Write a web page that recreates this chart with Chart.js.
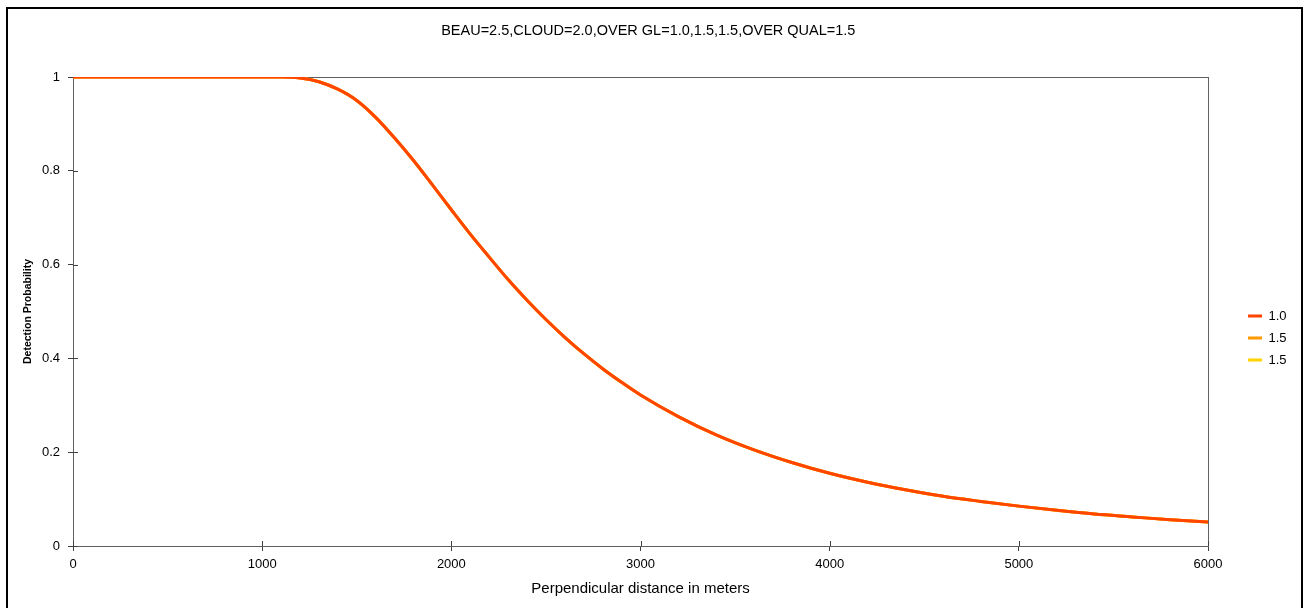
<!DOCTYPE html>
<html>
<head>
<meta charset="utf-8">
<script src="https://cdn.jsdelivr.net/npm/chart.js@4"></script>
<style>
  body { margin: 0; background: #fff; }
  #frame { position: absolute; left: 6px; top: 7px; width: 1293px; height: 620px; border: 2px solid #000; }
  #wrap { position: absolute; left: 0; top: 0; width: 1309px; height: 608px; }
</style>
</head>
<body>
<div id="frame"></div>
<div id="wrap"><canvas id="myChart"></canvas></div>
<script>
// perpendicular distance (m)
let distances = [0, 200, 400, 600, 800, 1000, 1100, 1200, 1300, 1400, 1500, 1600, 1700, 1800, 1900,
  2000, 2100, 2200, 2300, 2400, 2500, 2600, 2700, 2800, 2900, 3000, 3200, 3400, 3600, 3800,
  4000, 4200, 4400, 4600, 4800, 5000, 5200, 5400, 5600, 5800, 6000];
// detection probability (the three overlap)
let gl10 = [1, 1, 1, 1, 1, 1, 1, 0.998, 0.99, 0.974, 0.95, 0.914, 0.87, 0.822, 0.77,
  0.717, 0.665, 0.616, 0.568, 0.524, 0.483, 0.445, 0.41, 0.378, 0.349, 0.322, 0.276, 0.237, 0.205, 0.178,
  0.155, 0.136, 0.12, 0.106, 0.095, 0.085, 0.076, 0.068, 0.062, 0.056, 0.051];
let gl15a = gl10.slice();
let gl15b = gl10.slice();

let seriesNames = ['1.0', '1.5', '1.5'];
let seriesColors = ['#FF4500', '#FF9900', '#FFD200'];
let xTicks = [0, 1000, 2000, 3000, 4000, 5000, 6000];
let yTicks = [0, 0.2, 0.4, 0.6, 0.8, 1];

function pts(vals) {
    return distances.map((d, i) => ({x: d, y: vals[i]}));
}

let font = 'Liberation Sans, Arial, sans-serif';

// plot area frame + tick marks crossing into the plot
let frame = {
    id: 'frame',
    beforeDatasetsDraw(chart) {
        let a = chart.chartArea, c = chart.ctx;
        c.save();
        c.strokeStyle = '#606060';
        c.lineWidth = 1;
        c.strokeRect(a.left + 0.5, a.top + 0.5, a.right - a.left, a.bottom - a.top);
        c.strokeStyle = '#404040';
        c.beginPath();
        yTicks.forEach(v => {
            let y = Math.round(chart.scales.y.getPixelForValue(v)) + 0.5;
            c.moveTo(a.left, y); c.lineTo(a.left + 5, y);
        });
        xTicks.forEach(v => {
            let x = Math.round(chart.scales.x.getPixelForValue(v)) + 0.5;
            c.moveTo(x, a.bottom); c.lineTo(x, a.bottom - 5);
        });
        c.stroke();
        c.restore();
    }
};

let myChart = new Chart(document.getElementById('myChart').getContext('2d'), {
    type: 'line',
    data: {
        datasets: [gl10, gl15a, gl15b].map((v, i) => ({
            label: seriesNames[i],
            data: pts(v),
            borderColor: seriesColors[i],
            backgroundColor: seriesColors[i],
            borderWidth: 3,
            pointRadius: 0,
            cubicInterpolationMode: 'monotone'
        }))
    },
    options: {
        responsive: true,
        maintainAspectRatio: false,
        animation: false,
        layout: {padding: {left: 0, right: 12.4, top: 0, bottom: 0}},
        plugins: {
            title: {
                display: true,
                text: 'BEAU=2.5,CLOUD=2.0,OVER GL=1.0,1.5,1.5,OVER QUAL=1.5',
                color: '#000',
                font: {family: font, size: 14.5, weight: 'normal'},
                padding: {top: 22, bottom: 37.6}
            },
            legend: {
                position: 'right',
                title: {display: true, text: '', font: {size: 12}, padding: {top: 0, bottom: 53.6}},
                labels: {
                    color: '#000',
                    font: {family: font, size: 13},
                    boxWidth: 14,
                    boxHeight: 3,
                    padding: 9,
                    generateLabels(chart) {
                        let items = Chart.defaults.plugins.legend.labels.generateLabels(chart);
                        items.forEach(it => { it.lineWidth = 0; });
                        return items;
                    }
                }
            },
            tooltip: {enabled: false}
        },
        scales: {
            x: {
                type: 'linear',
                min: 0,
                max: 6000,
                afterBuildTicks(s) { s.ticks = xTicks.map(v => ({value: v})); },
                afterFit(s) { s.height = 62; },
                grid: {drawOnChartArea: false, tickLength: 5, color: '#404040'},
                border: {color: '#404040', width: 1},
                ticks: {color: '#000', font: {family: font, size: 13}, padding: 6, maxRotation: 0,
                    callback: v => String(v)},
                title: {
                    display: true,
                    text: 'Perpendicular distance in meters',
                    color: '#000',
                    font: {family: font, size: 15},
                    padding: {top: 0, bottom: 10}
                }
            },
            y: {
                min: 0,
                max: 1,
                afterBuildTicks(s) { s.ticks = yTicks.map(v => ({value: v})); },
                afterFit(s) { s.width = 73; },
                grid: {drawOnChartArea: false, tickLength: 5, color: '#404040'},
                border: {color: '#404040', width: 1},
                ticks: {color: '#000', font: {family: font, size: 13}, padding: 8,
                    callback: v => String(v)},
                title: {
                    display: true,
                    text: 'Detection Probability',
                    color: '#000',
                    font: {family: font, size: 10.5, weight: 'bold'},
                    padding: {top: 22, bottom: 0}
                }
            },
            yr: {
                position: 'right',
                display: true,
                min: 0,
                max: 1,
                afterFit(s) { s.width = 31; },
                grid: {display: false},
                border: {display: false},
                ticks: {display: false}
            }
        }
    },
    plugins: [frame]
});
</script>
</body>
</html>
